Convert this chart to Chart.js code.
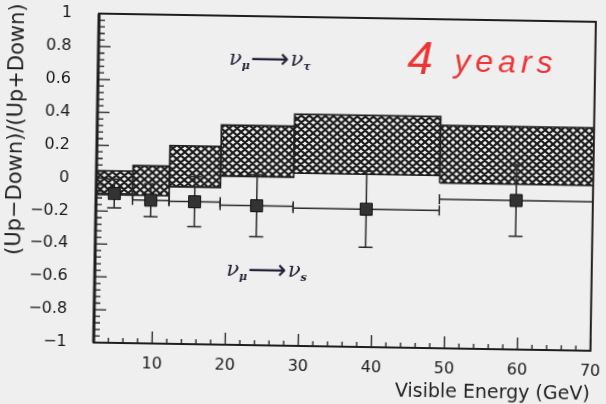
<!DOCTYPE html>
<html>
<head>
<meta charset="utf-8">
<script src="https://cdn.jsdelivr.net/npm/chart.js@4.4.1/dist/chart.umd.min.js"></script>
<style>
  html, body { margin: 0; padding: 0; background: #efefef; overflow: hidden; }
  #wrap { width: 606px; height: 404px; transform: rotate(0.95deg); }
</style>
</head>
<body>
<div id="wrap"><canvas id="chart" width="606" height="404"></canvas></div>
<script>
// visible energy bins (GeV)
const binEdges = [2, 7, 12, 19, 29, 49, 70];
// nu_mu -> nu_tau expectation (hatched band)
const tauLow  = [-0.10, -0.10, -0.045, 0.025, 0.05, 0.005];
const tauHigh = [0.046, 0.08, 0.205, 0.335, 0.408, 0.356];
// nu_mu -> nu_s expectation (points)
const sterileX   = [4.5, 9.5, 15.5, 24, 39, 59.5];
const sterileY   = [-0.092, -0.129, -0.134, -0.152, -0.162, -0.094];
const sterileErr = [0.087, 0.10, 0.152, 0.188, 0.231, 0.218];
const xTicks = [10, 20, 30, 40, 50, 60, 70];
const yTicks = [-1, -0.8, -0.6, -0.4, -0.2, 0, 0.2, 0.4, 0.6, 0.8, 1];

const ink = '#1e1e1e';
const canvas = document.getElementById('chart');
const ctx = canvas.getContext('2d');

// cross hatch fill
function hatch() {
  const c = document.createElement('canvas');
  c.width = 8; c.height = 7;
  const g = c.getContext('2d');
  g.fillStyle = '#f2f2f2';
  g.fillRect(0, 0, 8, 7);
  g.strokeStyle = '#1a1a1a';
  g.lineWidth = 2.1;
  g.beginPath();
  for (const dx of [-8, 0, 8]) {
    g.moveTo(dx, 0); g.lineTo(dx + 8, 7);
    g.moveTo(dx, 7); g.lineTo(dx + 8, 0);
  }
  g.stroke();
  return ctx.createPattern(c, 'repeat');
}
const pattern = hatch();

const datasets = [];
for (let i = 0; i < tauLow.length; i++) {
  const x0 = binEdges[i], x1 = binEdges[i + 1];
  datasets.push({
    data: [{x: x0, y: tauHigh[i]}, {x: x1, y: tauHigh[i]}],
    showLine: true, fill: {value: tauLow[i]},
    backgroundColor: pattern, borderColor: 'rgba(0,0,0,0)',
    pointRadius: 0, order: 5
  });
  datasets.push({
    data: [{x: x0, y: tauLow[i]}, {x: x0, y: tauHigh[i]}, {x: x1, y: tauHigh[i]},
           {x: x1, y: tauLow[i]}, {x: x0, y: tauLow[i]}],
    showLine: true, fill: false, borderColor: ink, borderWidth: 1.6,
    pointRadius: 0, order: 4
  });
}
for (let i = 0; i < sterileX.length; i++) {
  const y = sterileY[i];
  // bin width bar
  datasets.push({
    data: [{x: binEdges[i], y: y}, {x: binEdges[i + 1], y: y}],
    showLine: true, fill: false, borderColor: '#2a2a2a', borderWidth: 1.5,
    pointStyle: 'line', rotation: 90, pointRadius: 5,
    pointBorderColor: '#2a2a2a', pointBorderWidth: 1.5, order: 3
  });
  // error bar
  datasets.push({
    data: [{x: sterileX[i], y: y - sterileErr[i]}, {x: sterileX[i], y: y + sterileErr[i]}],
    showLine: true, fill: false, borderColor: '#2a2a2a', borderWidth: 1.5,
    pointStyle: 'line', pointRadius: 7,
    pointBorderColor: '#2a2a2a', pointBorderWidth: 1.5, order: 2
  });
}
datasets.push({
  data: sterileX.map((x, i) => ({x: x, y: sterileY[i]})),
  showLine: false, pointStyle: 'rect', pointRadius: 8.5,
  pointBackgroundColor: '#333', pointBorderColor: '#111', pointBorderWidth: 1, order: 1
});

function nuLabel(c, x, y, sub1, sub2) {
  c.fillStyle = '#222236';
  c.textAlign = 'left';
  c.textBaseline = 'alphabetic';
  const big = 'italic 21px "DejaVu Serif"', small = 'italic bold 11px "DejaVu Serif"';
  c.font = big; c.fillText('\u03BD', x, y); x += c.measureText('\u03BD').width;
  c.font = small; c.fillText(sub1, x, y + 4); x += c.measureText(sub1).width + 1;
  c.font = '27px "DejaVu Sans"'; c.fillText('\u27F6', x, y + 2); x += c.measureText('\u27F6').width + 1;
  c.font = big; c.fillText('\u03BD', x, y); x += c.measureText('\u03BD').width;
  c.font = small; c.fillText(sub2, x, y + 4);
}

const decor = {
  id: 'decor',
  afterDatasetsDraw(chart) {
    const c = chart.ctx, a = chart.chartArea, xs = chart.scales.x, ys = chart.scales.y;
    c.save();
    c.strokeStyle = ink;
    // inward ticks
    c.lineWidth = 1.3;
    c.beginPath();
    for (let k = 0; k <= 50; k++) {
      const py = ys.getPixelForValue(-1 + k * 0.04);
      const len = k % 5 === 0 ? 12 : 6;
      c.moveTo(a.left, py); c.lineTo(a.left + len, py);
    }
    for (let e = 2; e <= 70; e += 2) {
      const px = xs.getPixelForValue(e);
      const len = e % 10 === 0 ? 12 : 5;
      c.moveTo(px, a.bottom); c.lineTo(px, a.bottom - len);
    }
    c.stroke();
    // frame
    c.lineWidth = 2;
    c.strokeRect(a.left, a.top, a.right - a.left, a.bottom - a.top);
    c.lineWidth = 3;
    c.beginPath(); c.moveTo(a.left, a.top); c.lineTo(a.left, a.bottom); c.stroke();

    nuLabel(c, xs.getPixelForValue(19.9), ys.getPixelForValue(0.70), '\u03BC', '\u03C4');
    nuLabel(c, xs.getPixelForValue(20.0), ys.getPixelForValue(-0.58), '\u03BC', 's');

    c.fillStyle = '#ec3434';
    c.font = 'italic 46px "Liberation Sans"';
    const x4 = xs.getPixelForValue(44.3);
    c.fillText('4', x4, ys.getPixelForValue(0.665));
    c.font = 'italic 32px "Liberation Sans"';
    c.letterSpacing = '5px';
    c.fillText('years', x4 + 47, ys.getPixelForValue(0.685));
    c.letterSpacing = '0px';

    // y axis title
    c.fillStyle = '#222';
    c.translate(16, 134);
    c.rotate(-Math.PI / 2);
    c.font = '21px "DejaVu Sans"';
    c.textAlign = 'center';
    c.textBaseline = 'middle';
    c.fillText('(Up\u2212Down)/(Up+Down)', 0, 0);
    c.restore();
  }
};

new Chart(canvas, {
  type: 'scatter',
  data: { datasets: datasets },
  options: {
    responsive: false,
    animation: false,
    events: [],
    layout: { padding: { left: 0, right: 0, top: 0, bottom: 0 } },
    plugins: { legend: { display: false }, tooltip: { enabled: false } },
    scales: {
      x: {
        type: 'linear', min: 2, max: 70,
        afterBuildTicks: s => { s.ticks = xTicks.map(v => ({value: v})); },
        afterFit: s => { s.height = 58; },
        grid: { display: false }, border: { display: false },
        ticks: { color: '#1a1a1a', padding: 3, font: { family: 'DejaVu Sans', size: 16 } },
        title: {
          display: true, text: 'Visible Energy (GeV)', align: 'end', color: '#222',
          font: { family: 'DejaVu Sans', size: 19 }, padding: { top: 0, bottom: 3 }
        }
      },
      y: {
        type: 'linear', min: -1, max: 1,
        afterBuildTicks: s => { s.ticks = yTicks.map(v => ({value: v})); },
        afterFit: s => { s.width = 96; s.paddingTop = 17; s.paddingBottom = 0; },
        grid: { display: false }, border: { display: false },
        ticks: {
          color: '#1a1a1a', padding: 19, font: { family: 'DejaVu Sans', size: 16 },
          callback: v => v === 0 ? '0' : (v < 0 ? '\u2212' : '') + Math.abs(v)
        }
      }
    }
  },
  plugins: [decor]
});
</script>
</body>
</html>
